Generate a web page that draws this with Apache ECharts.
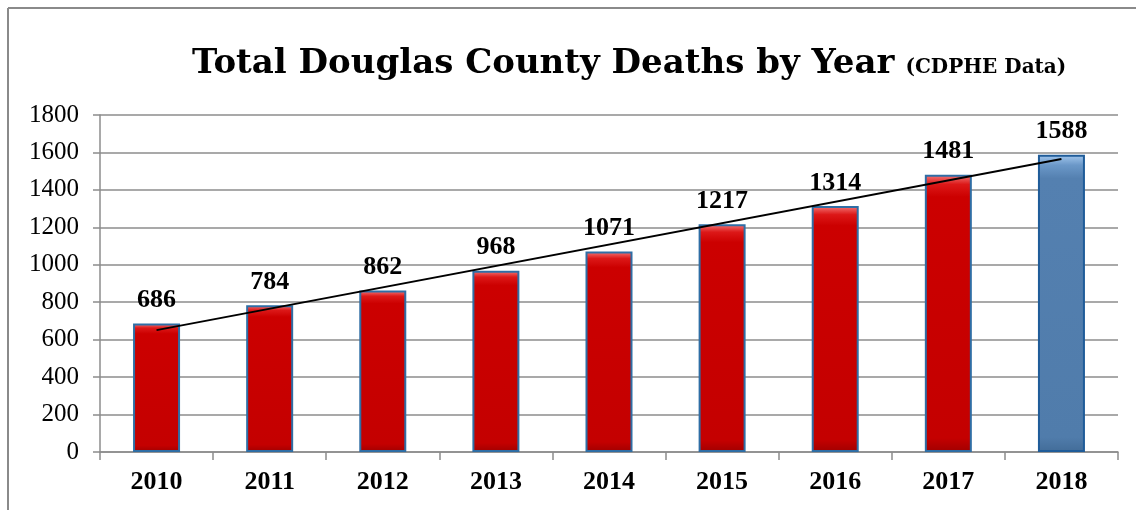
<!DOCTYPE html>
<html>
<head>
<meta charset="utf-8">
<script src="https://cdn.jsdelivr.net/npm/echarts@6/dist/echarts.min.js"></script>
<style>
html,body{margin:0;padding:0;background:#fff;}
#c{width:1136px;height:510px;}
</style>
</head>
<body>
<div id="c"></div>
<script>
const years = ['2010','2011','2012','2013','2014','2015','2016','2017','2018'];
const deaths = [686, 784, 862, 968, 1071, 1217, 1314, 1481, 1588];
const highlightYear = '2018';
const trendValues = [651, null, null, null, null, null, null, null, 1565];
const yTicks = [0, 200, 400, 600, 800, 1000, 1200, 1400, 1600, 1800];

const SERIF = "'Liberation Serif', 'Times New Roman', Times, serif";
const redFill = {type:'linear',x:0,y:0,x2:0,y2:1,colorStops:[
  {offset:0,color:'#f47a7a'},{offset:0.035,color:'#dc1818'},{offset:0.08,color:'#cc0000'},
  {offset:0.95,color:'#c40000'},{offset:1,color:'#a00000'}]};
const blueFill = {type:'linear',x:0,y:0,x2:0,y2:1,colorStops:[
  {offset:0,color:'#a4c8ee'},{offset:0.035,color:'#6b98c8'},{offset:0.08,color:'#5480b0'},
  {offset:0.95,color:'#507cab'},{offset:1,color:'#426c98'}]};

const chart = echarts.init(document.getElementById('c'));
chart.setOption({
  animation:false,
  backgroundColor:'#fff',
  title:{
    text:'{a|Total Douglas County Deaths by Year} {b|(CDPHE Data)}',
    left:187, top:42,
    textStyle:{
      rich:{
        a:{fontFamily:'DejaVu Serif',fontWeight:'bold',fontSize:34,color:'#000'},
        b:{fontFamily:'DejaVu Serif',fontWeight:'bold',fontSize:20,color:'#000',verticalAlign:'bottom',padding:[0,0,3,6]}
      }
    }
  },
  graphic:[
    {type:'line',shape:{x1:8,y1:8,x2:1136,y2:8},style:{stroke:'#8a8a8a',lineWidth:2}},
    {type:'line',shape:{x1:8,y1:8,x2:8,y2:510},style:{stroke:'#8a8a8a',lineWidth:2}}
  ],
  grid:{left:100,right:18,top:115,bottom:58},
  xAxis:{
    type:'category',data:years,boundaryGap:true,
    axisLine:{lineStyle:{color:'#8c8c8c',width:1.5}},
    axisTick:{show:true,length:8,lineStyle:{color:'#8c8c8c',width:1.5}},
    axisLabel:{margin:17,fontFamily:SERIF,fontWeight:'bold',fontSize:26,color:'#000'}
  },
  yAxis:{
    type:'value',min:0,max:1800,interval:200,
    axisLine:{show:true,lineStyle:{color:'#8c8c8c',width:1.5}},
    axisTick:{show:true,length:7,lineStyle:{color:'#8c8c8c',width:1.5}},
    splitLine:{lineStyle:{color:'#8c8c8c',width:1.5}},
    axisLabel:{margin:21,fontFamily:SERIF,fontSize:25,color:'#000',
      formatter:v=>yTicks.includes(v)?String(v):''}
  },
  series:[
    {
      type:'bar',barWidth:47,
      data:deaths.map((v,i)=>({
        value:v,
        itemStyle: years[i]===highlightYear
          ? {color:blueFill,borderColor:'#1f5c99',borderWidth:2}
          : {color:redFill,borderColor:'#2f6ea5',borderWidth:2}
      })),
      label:{show:true,position:'top',distance:10,fontFamily:SERIF,fontWeight:'bold',fontSize:26,color:'#000'},
      z:2
    },
    {
      type:'line',data:trendValues,connectNulls:true,symbol:'none',
      lineStyle:{color:'#000',width:1.8},z:5,silent:true
    }
  ]
});
</script>
</body>
</html>
